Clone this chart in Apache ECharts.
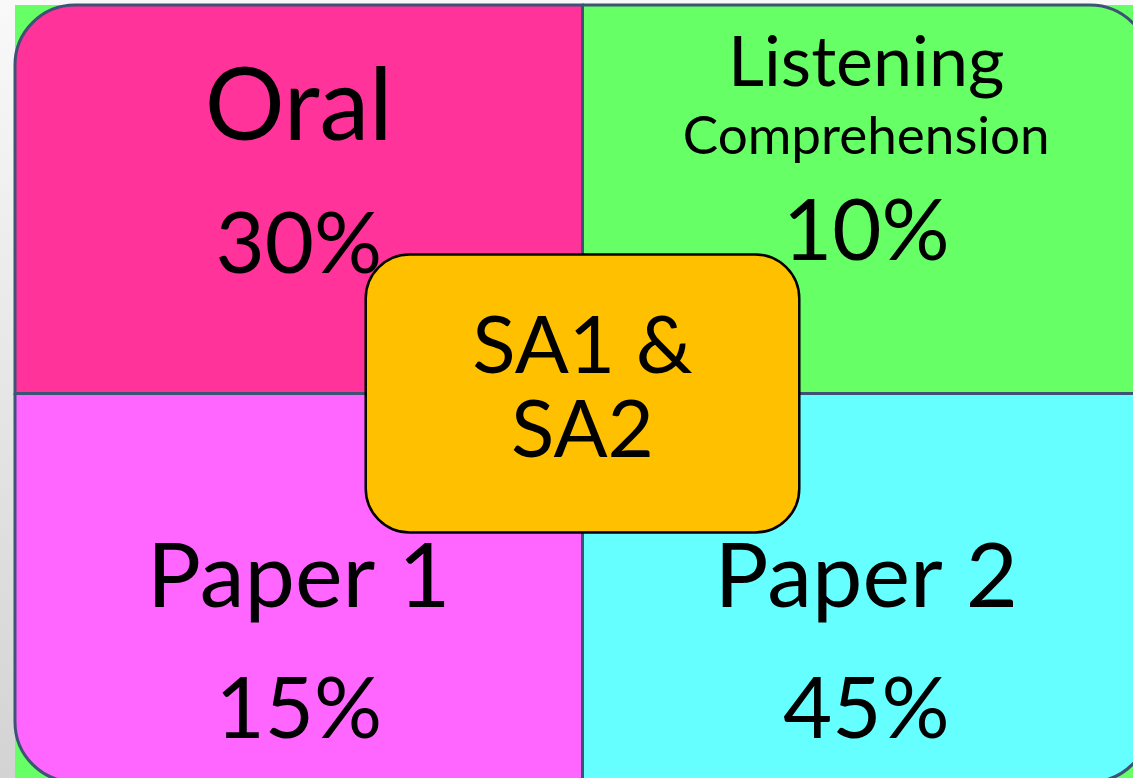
<!DOCTYPE html>
<html>
<head>
<meta charset="utf-8">
<title>SA1 &amp; SA2</title>
<script src="https://cdn.jsdelivr.net/npm/echarts@6/dist/echarts.min.js"></script>
<style>
html, body { margin: 0; padding: 0; overflow: hidden; background: linear-gradient(#f9f9f9, #d3d3d3); }
#chart { width: 1133px; height: 778px; }
</style>
</head>
<body>
<div id="chart"></div>
<script>
// quadrants of the matrix, reading order: top-left, top-right, bottom-left, bottom-right
var components = ['Oral', 'Listening', 'Paper 1', 'Paper 2'];
var subtitles = ['', 'Comprehension', '', ''];
var weights = [30, 10, 15, 45];
var cellCol = [0, 1, 0, 1];
var cellRow = [0, 0, 1, 1];
var centerLabel = ['SA1 &', 'SA2'];

var colors = ['#ff3399', '#66ff66', '#ff66ff', '#66ffff'];
var lineColor = '#3d5275';
var font = 'Futura, "Century Gothic", Lato, sans-serif';
var cornerR = 60;

// text placement inside each cell, as fraction of the cell height
var layout = [
    { title: 0.265, titleSize: 100, sub: 0, subSize: 0, pct: 0.62 },
    { title: 0.15, titleSize: 70, sub: 0.34, subSize: 53, pct: 0.585 },
    { title: 0.474, titleSize: 90, sub: 0, subSize: 0, pct: 0.815 },
    { title: 0.474, titleSize: 90, sub: 0, subSize: 0, pct: 0.815 }
];

var cells = [];
for (var i = 0; i < components.length; i++) {
    cells.push([cellCol[i], cellRow[i], i]);
}

var chart = echarts.init(document.getElementById('chart'));

function renderCell(params, api) {
    var c = api.value(0), r = api.value(1), idx = api.value(2);
    var p0 = api.coord([c, r]);
    var p1 = api.coord([c + 1, r + 1]);
    var x = Math.min(p0[0], p1[0]), y = Math.min(p0[1], p1[1]);
    var w = Math.abs(p1[0] - p0[0]), h = Math.abs(p1[1] - p0[1]);
    var rad = [0, 0, 0, 0];
    if (idx === 0) rad = [cornerR, 0, 0, 0];
    if (idx === 1) rad = [0, cornerR, 0, 0];
    if (idx === 2) rad = [0, 0, 0, cornerR];
    if (idx === 3) rad = [0, 0, cornerR, 0];
    var L = layout[idx];
    var cx = x + w / 2;
    var kids = [{
        type: 'rect',
        shape: { x: x, y: y, width: w, height: h, r: rad },
        style: { fill: colors[idx], stroke: lineColor, lineWidth: 3 }
    }, {
        type: 'text',
        style: {
            x: cx, y: y + h * L.title, text: components[idx],
            font: L.titleSize + 'px ' + font, fill: '#000',
            align: 'center', verticalAlign: 'middle'
        }
    }, {
        type: 'text',
        style: {
            x: cx, y: y + h * L.pct, text: weights[idx] + '%',
            font: '85px ' + font, fill: '#000',
            align: 'center', verticalAlign: 'middle'
        }
    }];
    if (subtitles[idx]) {
        kids.push({
            type: 'text',
            style: {
                x: cx, y: y + h * L.sub, text: subtitles[idx],
                font: L.subSize + 'px ' + font, fill: '#000',
                align: 'center', verticalAlign: 'middle'
            }
        });
    }
    return { type: 'group', children: kids };
}

function renderCenter(params, api) {
    var hw = 0.382, hh = 0.358;
    var p0 = api.coord([api.value(0) - hw, api.value(1) - hh]);
    var p1 = api.coord([api.value(0) + hw, api.value(1) + hh]);
    var x = Math.min(p0[0], p1[0]), y = Math.min(p0[1], p1[1]);
    var w = Math.abs(p1[0] - p0[0]), h = Math.abs(p1[1] - p0[1]);
    return {
        type: 'group',
        children: [{
            type: 'rect',
            shape: { x: x, y: y, width: w, height: h, r: 44 },
            style: { fill: '#ffc000', stroke: '#000', lineWidth: 2.5 }
        }, {
            type: 'text',
            style: {
                x: x + w / 2, y: y + h / 2 - 4, text: centerLabel.join('\n'),
                font: '80px ' + font, lineHeight: 84, fill: '#000',
                align: 'center', verticalAlign: 'middle'
            }
        }]
    };
}

var option = {
    animation: false,
    graphic: [{
        type: 'rect', left: 15, top: 5, z: -10,
        shape: { width: 1118, height: 773 },
        style: { fill: '#66ff66' }
    }],
    grid: { left: 15, top: 5, width: 1135, height: 777, outerBoundsMode: 'none', containLabel: false },
    xAxis: { type: 'value', min: 0, max: 2, show: false },
    yAxis: { type: 'value', min: 0, max: 2, inverse: true, show: false },
    series: [{
        type: 'custom',
        renderItem: renderCell,
        data: cells,
        clip: false
    }, {
        type: 'custom',
        renderItem: renderCenter,
        data: [[1, 1]],
        z: 5,
        clip: false
    }]
};

chart.setOption(option);
window.onresize = chart.resize;
</script>
</body>
</html>
